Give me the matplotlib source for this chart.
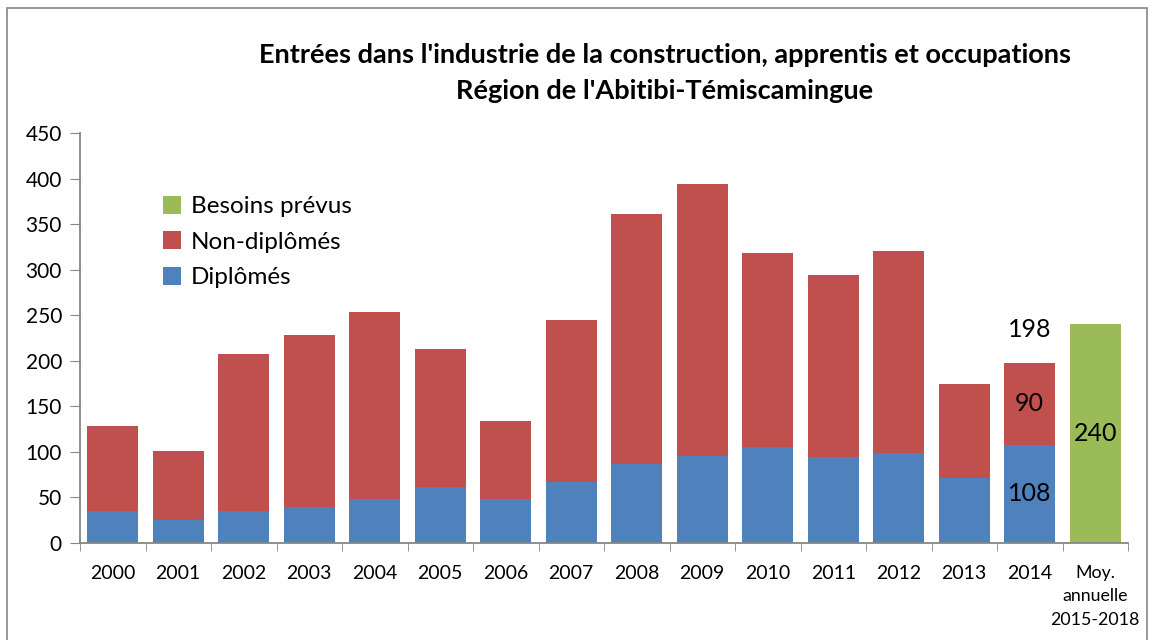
import numpy as np
import matplotlib.pyplot as plt
from matplotlib.patches import Rectangle

plt.rcParams['font.family'] = ['Lato', 'DejaVu Sans']

categories = ['2000', '2001', '2002', '2003', '2004', '2005', '2006', '2007',
              '2008', '2009', '2010', '2011', '2012', '2013', '2014',
              'Moy.\nannuelle\n2015-2018']
diplomes = [35, 25, 35, 40, 48, 61, 48, 67, 87, 95, 105, 94, 99, 71, 108, 0]
non_diplomes = [93, 76, 172, 188, 206, 152, 86, 178, 274, 299, 213, 200, 221, 103, 90, 0]
besoins = [0, 0, 0, 0, 0, 0, 0, 0, 0, 0, 0, 0, 0, 0, 0, 240]

blue = '#4F81BD'
red = '#C0504D'
green = '#9BBB59'

fig = plt.figure(figsize=(11.52, 6.4), dpi=100)
ax = fig.add_axes([80/1152, 1-543/640, (1128-80)/1152, (543-133)/640])

x = np.arange(len(categories))
w = 0.78
dip = np.array(diplomes)
non = np.array(non_diplomes)
bes = np.array(besoins)
b1 = ax.bar(x[:-1], dip[:-1], w, color=blue, label='Diplômés')
b2 = ax.bar(x[:-1], non[:-1], w, bottom=dip[:-1], color=red, label='Non-diplômés')
b3 = ax.bar(x[-1:], bes[-1:], w, color=green, label='Besoins prévus')

# value labels for 2014 and projection
i = len(categories) - 2
ax.text(x[i], dip[i] / 2, str(dip[i]), ha='center', va='center', fontsize=18)
ax.text(x[i], dip[i] + non[i] / 2, str(non[i]), ha='center', va='center', fontsize=18)
ax.text(x[i], dip[i] + non[i] + 36, str(dip[i] + non[i]), ha='center', va='center', fontsize=18)
ax.text(x[-1], bes[-1] / 2, str(bes[-1]), ha='center', va='center', fontsize=18)

ax.set_xlim(-0.5, len(categories) - 0.5)
ax.set_ylim(0, 450)
ax.set_yticks(np.arange(0, 451, 50))
ax.set_xticks(x)
ax.set_xticklabels(categories, fontsize=14, linespacing=1.45)
ax.get_xticklabels()[-1].set_fontsize(12.8)
ax.get_xticklabels()[-1].set_linespacing(1.55)
ax.set_xticks(np.arange(-0.5, len(categories), 1), minor=True)
ax.tick_params(axis='x', which='major', length=0, pad=16)
ax.tick_params(axis='x', which='minor', length=6, color='#868686')
ax.tick_params(axis='y', length=7, color='#868686', labelsize=15, pad=6)
for s in ['top', 'right']:
    ax.spines[s].set_visible(False)
for s in ['left', 'bottom']:
    ax.spines[s].set_color('#868686')
    ax.spines[s].set_linewidth(1.3)

ax.legend(handles=[b3, b2, b1], loc='upper left', bbox_to_anchor=((163-80)/1048, (543-196)/410),
          borderaxespad=0, borderpad=0,
          frameon=False, fontsize=17.5, handlelength=0.75, handleheight=0.75,
          handletextpad=0.4, labelspacing=0.58)

fig.text(665/1152, 1-55/640, "Entrées dans l'industrie de la construction, apprentis et occupations",
         ha='center', va='center', fontsize=19.5, fontweight='bold')
fig.text(665/1152, 1-91/640, "Région de l'Abitibi-Témiscamingue",
         ha='center', va='center', fontsize=19.5, fontweight='bold')

fig.patches.append(Rectangle((7/1152, -0.01), 1140/1152, 1-8/640 + 0.01, transform=fig.transFigure,
                             fill=False, edgecolor='#868686', linewidth=1.2))

fig.savefig('out.png', dpi=100)
